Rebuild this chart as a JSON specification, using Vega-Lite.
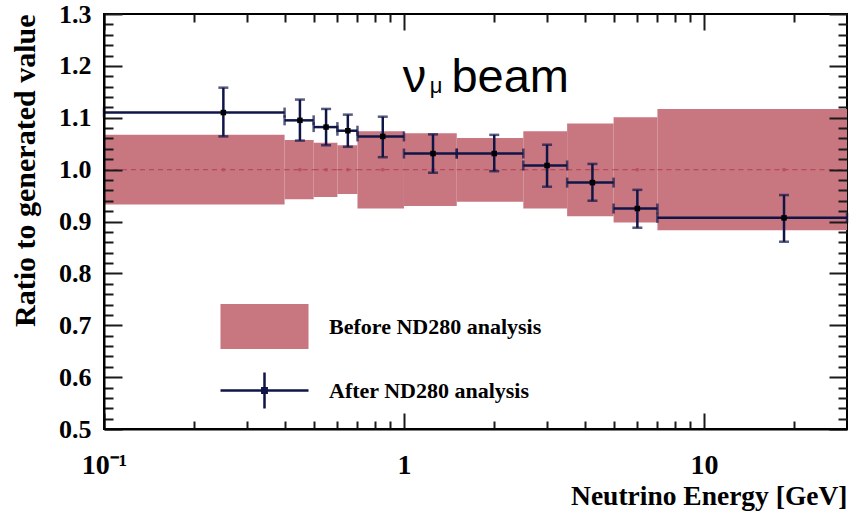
{
  "$schema": "https://vega.github.io/schema/vega-lite/v6.json",
  "width": 743,
  "height": 415,
  "autosize": {"type": "none"},
  "padding": {"left": 104, "top": 14, "right": 12, "bottom": 85},
  "background": "white",
  "config": {
    "view": {"stroke": "black", "strokeWidth": 2},
    "axis": {
      "domainColor": "black", "domainWidth": 2,
      "labelFont": "Liberation Serif", "labelFontWeight": "bold", "labelColor": "black",
      "titleFont": "Liberation Serif", "titleFontWeight": "bold", "titleColor": "black"
    }
  },
  "data": {"values": [
    {"lo":0.1,"hi":0.4,"ctr":0.25,"before":1,"bLo":0.933,"bHi":1.067,"after":1.110,"aLo":1.064,"aHi":1.158},
    {"lo":0.4,"hi":0.5,"ctr":0.45,"before":1,"bLo":0.943,"bHi":1.057,"after":1.095,"aLo":1.056,"aHi":1.135},
    {"lo":0.5,"hi":0.6,"ctr":0.55,"before":1,"bLo":0.947,"bHi":1.052,"after":1.082,"aLo":1.047,"aHi":1.117},
    {"lo":0.6,"hi":0.7,"ctr":0.65,"before":1,"bLo":0.953,"bHi":1.047,"after":1.075,"aLo":1.044,"aHi":1.106},
    {"lo":0.7,"hi":1.0,"ctr":0.85,"before":1,"bLo":0.925,"bHi":1.074,"after":1.064,"aLo":1.024,"aHi":1.102},
    {"lo":1.0,"hi":1.5,"ctr":1.25,"before":1,"bLo":0.930,"bHi":1.070,"after":1.031,"aLo":0.994,"aHi":1.068},
    {"lo":1.5,"hi":2.5,"ctr":2.0,"before":1,"bLo":0.938,"bHi":1.061,"after":1.031,"aLo":0.997,"aHi":1.067},
    {"lo":2.5,"hi":3.5,"ctr":3.0,"before":1,"bLo":0.925,"bHi":1.074,"after":1.008,"aLo":0.967,"aHi":1.048},
    {"lo":3.5,"hi":5,"ctr":4.25,"before":1,"bLo":0.910,"bHi":1.089,"after":0.975,"aLo":0.940,"aHi":1.011},
    {"lo":5,"hi":7,"ctr":6.0,"before":1,"bLo":0.898,"bHi":1.101,"after":0.925,"aLo":0.888,"aHi":0.961},
    {"lo":7,"hi":30,"ctr":18.5,"before":1,"bLo":0.883,"bHi":1.117,"after":0.907,"aLo":0.861,"aHi":0.951}
  ]},
  "resolve": {"axis": {"x": "independent", "y": "independent"}},
  "layer": [
    {
      "mark": {"type": "rect", "color": "#C87680"},
      "encoding": {
        "x": {"field": "lo", "type": "quantitative", "scale": {"type": "log", "domain": [0.1, 30], "nice": false},
          "axis": {"orient": "bottom", "values": [0.1, 1, 10],
            "grid": true, "gridDash": [16, 383], "gridColor": "#1a1a1a", "gridWidth": 2, "gridOpacity": 1,
            "labels": true, "ticks": false, "tickSize": 0, "domain": true, "zindex": 1,
            "labelExpr": "datum.value < 0.5 ? '10⁻¹' : (datum.value < 5 ? '1' : '10')",
            "labelFontSize": 28, "labelPadding": 22, "labelFlush": false, "labelOverlap": false,
            "title": "Neutrino Energy [GeV]", "titleFontSize": 27.5, "titleAnchor": "end", "titlePadding": 3}},
        "x2": {"field": "hi"},
        "y": {"field": "bLo", "type": "quantitative", "scale": {"domain": [0.5, 1.3], "nice": false, "zero": false},
          "axis": {"orient": "left", "values": [0.5,0.6,0.7,0.8,0.9,1.0,1.1,1.2,1.3],
            "grid": true, "gridDash": [18, 707], "gridColor": "#1a1a1a", "gridWidth": 2, "gridOpacity": 1,
            "labels": true, "ticks": false, "tickSize": 0, "domain": true, "format": ".1f", "zindex": 1,
            "labelFontSize": 26, "labelPadding": 13, "labelOverlap": false,
            "title": "Ratio to generated value", "titleFontSize": 30, "titleAnchor": "end", "titlePadding": 18}},
        "y2": {"field": "bHi"}
      }
    },
    {
      "mark": {"type": "rule", "color": "#B94A5E", "strokeWidth": 1.2, "strokeDash": [5, 4]},
      "encoding": {
        "x": {"field": "lo", "type": "quantitative", "scale": {"type": "log", "domain": [0.1, 30], "nice": false},
          "axis": {"orient": "top", "values": [0.2,0.3,0.4,0.5,0.6,0.7,0.8,0.9,2,3,4,5,6,7,8,9,20],
            "grid": true, "gridDash": [8, 399], "gridColor": "#1a1a1a", "gridWidth": 2, "gridOpacity": 1,
            "ticks": false, "domain": false, "labels": false, "title": null, "zindex": 1}},
        "x2": {"field": "hi"},
        "y": {"field": "before", "type": "quantitative", "scale": {"domain": [0.5, 1.3], "nice": false, "zero": false},
          "axis": {"orient": "right", "values": [0.52,0.54,0.56,0.58,0.62,0.64,0.66,0.68,0.72,0.74,0.76,0.78,0.82,0.84,0.86,0.88,0.92,0.94,0.96,0.98,1.02,1.04,1.06,1.08,1.12,1.14,1.16,1.18,1.22,1.24,1.26,1.28],
            "grid": true, "gridDash": [9, 725], "gridColor": "#1a1a1a", "gridWidth": 2, "gridOpacity": 1,
            "ticks": false, "domain": false, "labels": false, "title": null, "zindex": 1}}
      }
    },
    {
      "mark": {"type": "point", "shape": "circle", "filled": true, "color": "#B94A5E", "size": 14, "opacity": 0.8},
      "encoding": {
        "x": {"field": "ctr", "type": "quantitative", "scale": {"type": "log", "domain": [0.1, 30], "nice": false}, "axis": null},
        "y": {"field": "before", "type": "quantitative", "scale": {"domain": [0.5, 1.3], "nice": false, "zero": false}, "axis": null}
      }
    },
    {
      "mark": {"type": "rule", "color": "#0F1547", "strokeWidth": 2.5},
      "encoding": {
        "x": {"field": "lo", "type": "quantitative", "scale": {"type": "log", "domain": [0.1, 30], "nice": false}, "axis": null},
        "x2": {"field": "hi"},
        "y": {"field": "after", "type": "quantitative", "scale": {"domain": [0.5, 1.3], "nice": false, "zero": false}, "axis": null}
      }
    },
    {
      "mark": {"type": "rule", "color": "#0F1547", "strokeWidth": 2.5},
      "encoding": {
        "x": {"field": "ctr", "type": "quantitative", "scale": {"type": "log", "domain": [0.1, 30], "nice": false}, "axis": null},
        "y": {"field": "aLo", "type": "quantitative", "scale": {"domain": [0.5, 1.3], "nice": false, "zero": false}, "axis": null},
        "y2": {"field": "aHi"}
      }
    },
    {
      "mark": {"type": "tick", "orient": "horizontal", "color": "#0F1547", "size": 10, "thickness": 2.5},
      "encoding": {
        "x": {"field": "ctr", "type": "quantitative", "scale": {"type": "log", "domain": [0.1, 30], "nice": false}, "axis": null},
        "y": {"field": "aLo", "type": "quantitative", "scale": {"domain": [0.5, 1.3], "nice": false, "zero": false}, "axis": null}
      }
    },
    {
      "mark": {"type": "tick", "orient": "horizontal", "color": "#0F1547", "size": 10, "thickness": 2.5},
      "encoding": {
        "x": {"field": "ctr", "type": "quantitative", "scale": {"type": "log", "domain": [0.1, 30], "nice": false}, "axis": null},
        "y": {"field": "aHi", "type": "quantitative", "scale": {"domain": [0.5, 1.3], "nice": false, "zero": false}, "axis": null}
      }
    },
    {
      "mark": {"type": "tick", "orient": "vertical", "color": "#0F1547", "size": 10, "thickness": 2.5},
      "encoding": {
        "x": {"field": "lo", "type": "quantitative", "scale": {"type": "log", "domain": [0.1, 30], "nice": false}, "axis": null},
        "y": {"field": "after", "type": "quantitative", "scale": {"domain": [0.5, 1.3], "nice": false, "zero": false}, "axis": null}
      }
    },
    {
      "mark": {"type": "tick", "orient": "vertical", "color": "#0F1547", "size": 10, "thickness": 2.5},
      "encoding": {
        "x": {"field": "hi", "type": "quantitative", "scale": {"type": "log", "domain": [0.1, 30], "nice": false}, "axis": null},
        "y": {"field": "after", "type": "quantitative", "scale": {"domain": [0.5, 1.3], "nice": false, "zero": false}, "axis": null}
      }
    },
    {
      "mark": {"type": "point", "shape": "square", "filled": true, "color": "black", "size": 30, "opacity": 1},
      "encoding": {
        "x": {"field": "ctr", "type": "quantitative", "scale": {"type": "log", "domain": [0.1, 30], "nice": false}, "axis": null},
        "y": {"field": "after", "type": "quantitative", "scale": {"domain": [0.5, 1.3], "nice": false, "zero": false}, "axis": null}
      }
    },
    {
      "data": {"values": [{"label": "ν"}]},
      "mark": {"type": "text", "font": "Liberation Sans", "fontSize": 47, "align": "left", "baseline": "alphabetic", "color": "black"},
      "encoding": {
        "x": {"datum": 0.99, "type": "quantitative", "scale": {"type": "log", "domain": [0.1, 30], "nice": false}, "axis": null},
        "y": {"datum": 1.15, "type": "quantitative", "scale": {"domain": [0.5, 1.3], "nice": false, "zero": false}, "axis": null},
        "text": {"field": "label"}
      }
    },
    {
      "data": {"values": [{"label": "μ"}]},
      "mark": {"type": "text", "font": "Liberation Sans", "fontSize": 22, "align": "left", "baseline": "alphabetic", "color": "black"},
      "encoding": {
        "x": {"datum": 1.22, "type": "quantitative", "scale": {"type": "log", "domain": [0.1, 30], "nice": false}, "axis": null},
        "y": {"datum": 1.147, "type": "quantitative", "scale": {"domain": [0.5, 1.3], "nice": false, "zero": false}, "axis": null},
        "text": {"field": "label"}
      }
    },
    {
      "data": {"values": [{"label": "beam"}]},
      "mark": {"type": "text", "font": "Liberation Sans", "fontSize": 47, "align": "left", "baseline": "alphabetic", "color": "black"},
      "encoding": {
        "x": {"datum": 1.44, "type": "quantitative", "scale": {"type": "log", "domain": [0.1, 30], "nice": false}, "axis": null},
        "y": {"datum": 1.15, "type": "quantitative", "scale": {"domain": [0.5, 1.3], "nice": false, "zero": false}, "axis": null},
        "text": {"field": "label"}
      }
    },
    {
      "data": {"values": [{"series": "Before ND280 analysis"}, {"series": "After ND280 analysis"}]},
      "mark": {"type": "point", "opacity": 0, "filled": true, "strokeWidth": 2.5},
      "encoding": {
        "shape": {"field": "series", "type": "nominal",
          "scale": {"domain": ["Before ND280 analysis", "After ND280 analysis"],
            "range": ["M-1.944,-0.966H1.944V0.966H-1.944Z", "M-2,0H2M0,-0.82V0.82M-0.1,-0.1H0.1V0.1H-0.1Z"]},
          "legend": {"orient": "none", "legendX": 137, "legendY": 289, "title": null, "padding": 0,
            "symbolSize": 1936, "symbolStrokeWidth": 2.5, "symbolOffset": 0, "symbolOpacity": 1,
            "labelFont": "Liberation Serif", "labelFontWeight": "bold", "labelFontSize": 22, "labelColor": "black",
            "labelOffset": 41, "rowPadding": 14, "labelLimit": 0}
        },
        "fill": {"field": "series", "type": "nominal",
          "scale": {"domain": ["Before ND280 analysis", "After ND280 analysis"], "range": ["#C87680", "#0F1547"]}},
        "stroke": {"field": "series", "type": "nominal",
          "scale": {"domain": ["Before ND280 analysis", "After ND280 analysis"], "range": ["#C87680", "#0F1547"]}}
      }
    }
  ]
}
